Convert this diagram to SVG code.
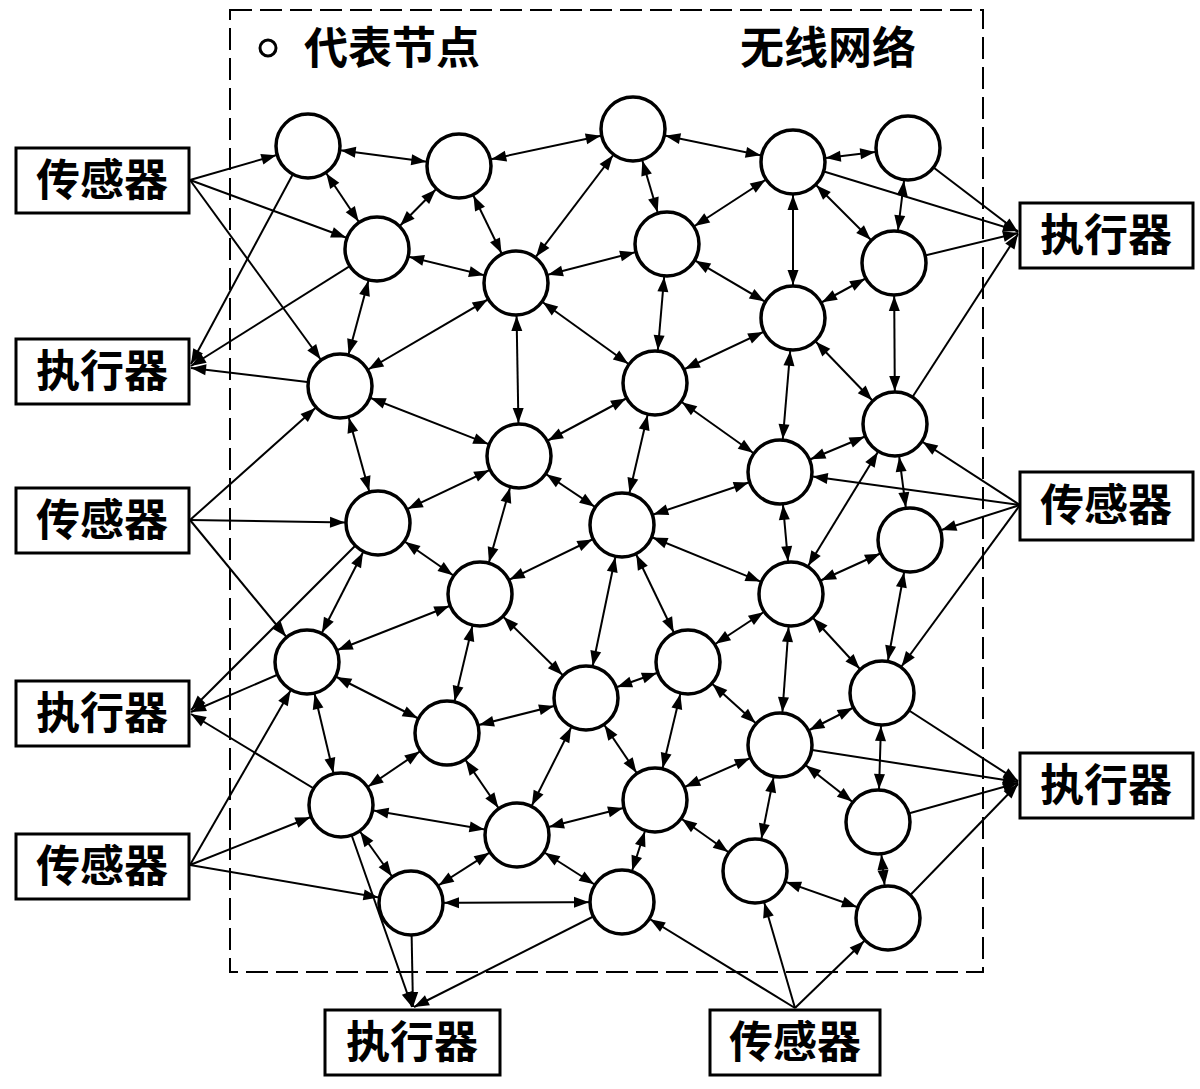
<svg xmlns="http://www.w3.org/2000/svg" width="1200" height="1089" viewBox="0 0 1200 1089">
<style>
.e{stroke:#000;stroke-width:2;fill:none}
.d{marker-start:url(#n);marker-end:url(#n)}
.s{marker-end:url(#n)}
.t{marker-end:url(#b)}
.nd circle{fill:#fff;stroke:#000;stroke-width:3.5}
.bx rect{fill:#fff;stroke:#000;stroke-width:3}
text{font-family:"Noto Sans CJK SC","Noto Sans",sans-serif;font-size:44px;font-weight:bold;fill:#000;text-anchor:middle}
</style>
<defs>
<marker id="n" markerUnits="userSpaceOnUse" markerWidth="100" markerHeight="20" viewBox="0 -10 100 20" refX="100" refY="0" orient="auto-start-reverse" overflow="visible"><path d="M67,0 L52,-5.5 L52,5.5 z"/></marker>
<marker id="b" markerUnits="userSpaceOnUse" markerWidth="100" markerHeight="20" viewBox="0 -10 100 20" refX="100" refY="0" orient="auto" overflow="visible"><path d="M100,0 L85,-5.5 L85,5.5 z"/></marker>
</defs>
<rect x="230" y="10" width="753" height="962" fill="none" stroke="#000" stroke-width="2" stroke-dasharray="22 8"/>
<circle cx="268" cy="48" r="8" fill="none" stroke="#000" stroke-width="3"/>
<text x="392" y="64" font-size="42">代表节点</text>
<text x="828" y="64" font-size="42">无线网络</text>
<g id="connectors">
<path class="e d" d="M308,146L459,166"/><path class="e d" d="M459,166L633,129"/>
<path class="e d" d="M308,146L377,249"/><path class="e d" d="M459,166L377,249"/>
<path class="e d" d="M459,166L516,283"/><path class="e d" d="M633,129L516,283"/>
<path class="e d" d="M377,249L516,283"/><path class="e d" d="M377,249L340,386"/>
<path class="e d" d="M516,283L340,386"/><path class="e d" d="M516,283L519,456"/>
<path class="e d" d="M340,386L519,456"/><path class="e d" d="M340,386L378,523"/>
<path class="e d" d="M667,244L516,283"/><path class="e d" d="M655,383L516,283"/>
<path class="e d" d="M655,383L519,456"/><path class="e d" d="M519,456L378,523"/>
<path class="e d" d="M519,456L480,594"/><path class="e d" d="M519,456L622,525"/>
<path class="e d" d="M633,129L793,162"/><path class="e d" d="M633,129L667,244"/>
<path class="e d" d="M793,162L908,148"/><path class="e d" d="M793,162L667,244"/>
<path class="e d" d="M793,162L894,263"/><path class="e d" d="M793,162L793,318"/>
<path class="e d" d="M908,148L894,263"/><path class="e d" d="M667,244L655,383"/>
<path class="e d" d="M667,244L793,318"/><path class="e d" d="M894,263L793,318"/>
<path class="e d" d="M793,318L655,383"/><path class="e d" d="M793,318L780,472"/>
<path class="e d" d="M793,318L895,424"/><path class="e d" d="M894,263L895,424"/>
<path class="e d" d="M655,383L780,472"/><path class="e d" d="M655,383L622,525"/>
<path class="e d" d="M895,424L780,472"/><path class="e d" d="M780,472L622,525"/>
<path class="e d" d="M895,424L791,594"/><path class="e d" d="M780,472L791,594"/>
<path class="e d" d="M895,424L910,540"/>
<path class="e d" d="M378,523L480,594"/><path class="e d" d="M378,523L307,662"/>
<path class="e d" d="M480,594L307,662"/><path class="e d" d="M480,594L622,525"/>
<path class="e d" d="M480,594L447,733"/><path class="e d" d="M480,594L586,698"/>
<path class="e d" d="M307,662L447,733"/><path class="e d" d="M307,662L341,805"/>
<path class="e d" d="M586,698L447,733"/><path class="e d" d="M447,733L341,805"/>
<path class="e d" d="M447,733L517,835"/><path class="e d" d="M341,805L517,835"/>
<path class="e d" d="M341,805L411,903"/><path class="e d" d="M517,835L411,903"/>
<path class="e d" d="M586,698L517,835"/><path class="e d" d="M517,835L655,800"/>
<path class="e d" d="M517,835L622,902"/><path class="e d" d="M411,903L622,902"/>
<path class="e d" d="M622,525L586,698"/><path class="e d" d="M622,525L791,594"/>
<path class="e d" d="M622,525L688,662"/><path class="e d" d="M791,594L910,540"/>
<path class="e d" d="M791,594L688,662"/><path class="e d" d="M791,594L882,693"/>
<path class="e d" d="M791,594L780,745"/><path class="e d" d="M910,540L882,693"/>
<path class="e d" d="M688,662L586,698"/><path class="e d" d="M688,662L655,800"/>
<path class="e d" d="M688,662L780,745"/><path class="e d" d="M586,698L655,800"/>
<path class="e d" d="M882,693L780,745"/><path class="e d" d="M882,693L878,822"/>
<path class="e d" d="M780,745L655,800"/><path class="e d" d="M780,745L878,822"/>
<path class="e d" d="M780,745L755,871"/><path class="e d" d="M655,800L755,871"/>
<path class="e d" d="M655,800L622,902"/><path class="e d" d="M755,871L888,918"/>
<path class="e d" d="M878,822L888,918"/>
<path class="e s" d="M190,180L308,146"/><path class="e s" d="M190,180L377,249"/><path class="e s" d="M190,180L340,386"/>
<path class="e t" d="M308,146L191,364"/><path class="e t" d="M377,249L191,366"/><path class="e t" d="M340,386L191,368"/>
<path class="e s" d="M190,520L340,386"/><path class="e s" d="M190,520L378,523"/><path class="e s" d="M190,520L307,662"/>
<path class="e t" d="M378,523L191,710"/><path class="e t" d="M307,662L191,712"/><path class="e t" d="M341,805L191,714"/>
<path class="e s" d="M190,865L307,662"/><path class="e s" d="M190,865L341,805"/><path class="e s" d="M190,865L411,903"/>
<path class="e t" d="M341,805L412,1007"/><path class="e t" d="M411,903L413,1007"/><path class="e t" d="M622,902L414,1007"/>
<path class="e t" d="M793,162L1018,231"/><path class="e t" d="M908,148L1018,232"/><path class="e t" d="M894,263L1018,233"/><path class="e t" d="M895,424L1018,234"/>
<path class="e s" d="M1020,505L895,424"/><path class="e s" d="M1020,505L780,472"/><path class="e s" d="M1020,505L910,540"/><path class="e s" d="M1020,505L882,693"/>
<path class="e t" d="M882,693L1018,781"/><path class="e t" d="M780,745L1018,782"/><path class="e t" d="M878,822L1018,783"/><path class="e t" d="M888,918L1018,784"/>
<path class="e s" d="M795,1008L622,902"/><path class="e s" d="M795,1008L755,871"/><path class="e s" d="M795,1008L888,918"/>
</g>
<g id="nodes" class="nd">
<circle id="A1" cx="308" cy="146" r="32"/><circle id="A2" cx="459" cy="166" r="32"/><circle id="A3" cx="633" cy="129" r="32"/><circle id="A4" cx="793" cy="162" r="32"/><circle id="A5" cx="908" cy="148" r="32"/>
<circle id="B1" cx="377" cy="249" r="32"/><circle id="B2" cx="516" cy="283" r="32"/><circle id="B3" cx="667" cy="244" r="32"/><circle id="B4" cx="894" cy="263" r="32"/><circle id="B5" cx="793" cy="318" r="32"/>
<circle id="C1" cx="340" cy="386" r="32"/><circle id="C2" cx="655" cy="383" r="32"/><circle id="C3" cx="895" cy="424" r="32"/>
<circle id="D1" cx="519" cy="456" r="32"/><circle id="D2" cx="780" cy="472" r="32"/>
<circle id="E1" cx="378" cy="523" r="32"/><circle id="E2" cx="622" cy="525" r="32"/><circle id="E3" cx="910" cy="540" r="32"/>
<circle id="F1" cx="480" cy="594" r="32"/><circle id="F2" cx="791" cy="594" r="32"/>
<circle id="G1" cx="307" cy="662" r="32"/><circle id="G2" cx="688" cy="662" r="32"/><circle id="G3" cx="586" cy="698" r="32"/><circle id="G4" cx="882" cy="693" r="32"/>
<circle id="H1" cx="447" cy="733" r="32"/><circle id="H2" cx="780" cy="745" r="32"/>
<circle id="I1" cx="341" cy="805" r="32"/><circle id="I2" cx="655" cy="800" r="32"/><circle id="I3" cx="517" cy="835" r="32"/><circle id="I4" cx="878" cy="822" r="32"/>
<circle id="J1" cx="411" cy="903" r="32"/><circle id="J2" cx="622" cy="902" r="32"/><circle id="J3" cx="755" cy="871" r="32"/><circle id="J4" cx="888" cy="918" r="32"/>
</g>
<g id="boxes" class="bx">
<g id="L1"><rect x="16" y="148" width="173" height="65"/><text x="102" y="196">传感器</text></g>
<g id="L2"><rect x="16" y="339" width="173" height="65"/><text x="102" y="387">执行器</text></g>
<g id="L3"><rect x="16" y="488" width="173" height="65"/><text x="102" y="536">传感器</text></g>
<g id="L4"><rect x="16" y="681" width="173" height="65"/><text x="102" y="729">执行器</text></g>
<g id="L5"><rect x="16" y="834" width="173" height="65"/><text x="102" y="882">传感器</text></g>
<g id="R1"><rect x="1020" y="203" width="173" height="65"/><text x="1106" y="251">执行器</text></g>
<g id="R2"><rect x="1020" y="472" width="173" height="68"/><text x="1106" y="521">传感器</text></g>
<g id="R3"><rect x="1020" y="753" width="173" height="65"/><text x="1106" y="801">执行器</text></g>
<g id="BL"><rect x="325" y="1010" width="175" height="65"/><text x="412" y="1058">执行器</text></g>
<g id="BR"><rect x="710" y="1010" width="170" height="65"/><text x="795" y="1058">传感器</text></g>
</g>
</svg>
